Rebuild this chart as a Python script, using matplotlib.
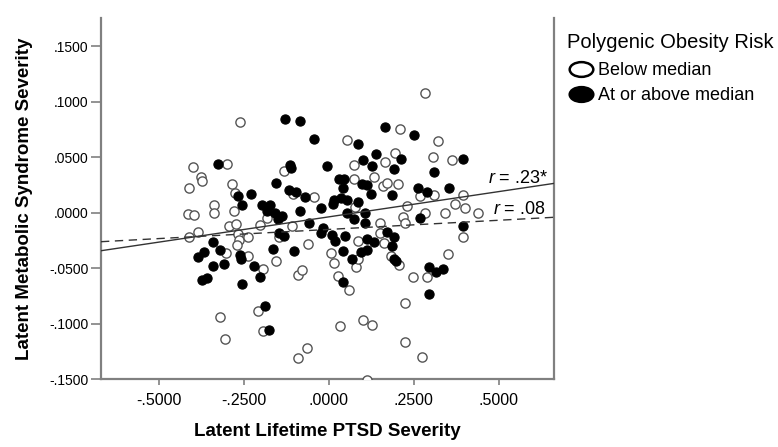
import matplotlib
matplotlib.use('Agg')
import matplotlib.pyplot as plt
from matplotlib.lines import Line2D
from matplotlib.path import Path
from matplotlib.ticker import FuncFormatter
import numpy as np

plt.rcParams['font.family'] = 'Liberation Sans'
plt.rcParams['mathtext.fontset'] = 'custom'
plt.rcParams['mathtext.it'] = 'Liberation Sans:italic'
plt.rcParams['mathtext.rm'] = 'Liberation Sans'

# below median group (open circles)
below_x = [-0.261, -0.300, -0.398, -0.376, -0.372, -0.411, -0.285, -0.276, -0.338, -0.338,
           -0.413, -0.396, -0.279, -0.293, -0.273, -0.384, -0.411, -0.267, -0.264, -0.271,
           -0.303, -0.236, -0.236, -0.320, -0.305, -0.131, 0.054, 0.211, 0.196, 0.167,
           0.074, 0.074, 0.133, 0.161, 0.173, 0.205, -0.104, -0.044, -0.182, 0.077,
           0.152, 0.229, 0.220, 0.224, -0.109, -0.201, -0.145, -0.060, -0.156, 0.008,
           0.016, 0.085, 0.151, 0.163, 0.184, 0.208, 0.080, 0.087, -0.194, -0.089,
           -0.078, 0.028, 0.061, -0.207, -0.194, -0.089, -0.065, 0.033, 0.100, 0.126,
           0.224, 0.224, 0.112, 0.283, 0.322, 0.308, 0.362, 0.269, 0.309, 0.394,
           0.371, 0.401, 0.438, 0.342, 0.283, 0.394, 0.350, 0.249, 0.288, 0.276]
below_y = [0.0814, 0.0439, 0.0409, 0.0319, 0.0288, 0.0223, 0.0256, 0.0175, 0.0069, -0.0003,
           -0.0012, -0.0021, 0.0018, -0.0120, -0.0102, -0.0171, -0.0222, -0.0189, -0.0246, -0.0291,
           -0.0366, -0.0222, -0.0390, -0.0937, -0.1141, 0.0376, 0.0652, 0.0750, 0.0536, 0.0455,
           0.0430, 0.0304, 0.0322, 0.0241, 0.0272, 0.0261, 0.0166, 0.0141, -0.0050, 0.0054,
           -0.0088, 0.0060, -0.0034, -0.0095, -0.0120, -0.0106, -0.0222, -0.0279, -0.0431, -0.0363,
           -0.0450, -0.0250, -0.0178, -0.0273, -0.0388, -0.0471, -0.0486, -0.0420, -0.0510, -0.0561,
           -0.0516, -0.0570, -0.0696, -0.0883, -0.1066, -0.1306, -0.1216, -0.1018, -0.0967, -0.1012,
           -0.0816, -0.1168, -0.1507, 0.1076, 0.0646, 0.0499, 0.0479, 0.0150, 0.0159, 0.0162,
           0.0078, 0.0044, -0.0003, 0.0000, 0.0002, -0.0222, -0.0372, -0.0582, -0.0582, -0.1297]

# at or above median group (filled circles)
above_x = [-0.326, -0.268, -0.256, -0.129, -0.084, -0.044, 0.166, 0.085, 0.140, 0.212,
           0.101, 0.126, 0.191, -0.115, -0.111, -0.006, 0.029, 0.044, 0.099, 0.114,
           0.041, 0.125, 0.186, -0.156, -0.117, -0.096, -0.071, -0.228, -0.195, -0.174,
           -0.181, -0.158, -0.137, -0.149, -0.084, -0.023, 0.016, 0.035, 0.013, 0.053,
           0.087, 0.055, 0.074, 0.107, 0.106, -0.057, -0.018, -0.145, -0.131, -0.024,
           -0.164, -0.103, 0.010, 0.019, 0.047, 0.043, 0.114, 0.133, 0.112, 0.094,
           0.069, 0.171, 0.191, 0.185, 0.191, 0.199, -0.220, -0.202, -0.254, 0.041,
           -0.187, -0.175, -0.339, -0.366, -0.385, -0.320, -0.260, -0.258, -0.339, -0.307,
           -0.374, -0.359, 0.394, 0.310, 0.263, 0.289, 0.355, 0.269, 0.394, 0.251,
           0.296, 0.316, 0.335, 0.296]
above_y = [0.0439, 0.0150, 0.0067, 0.0841, 0.0823, 0.0667, 0.0772, 0.0619, 0.0529, 0.0484,
           0.0472, 0.0421, 0.0391, 0.0434, 0.0400, 0.0418, 0.0308, 0.0304, 0.0261, 0.0250,
           0.0223, 0.0171, 0.0164, 0.0272, 0.0209, 0.0186, 0.0144, 0.0170, 0.0074, 0.0067,
           0.0020, -0.0005, -0.0025, -0.0057, 0.0018, 0.0041, 0.0119, 0.0130, 0.0081, 0.0114,
           0.0095, -0.0003, -0.0057, -0.0003, -0.0093, -0.0090, -0.0133, -0.0186, -0.0205, -0.0186,
           -0.0327, -0.0341, -0.0201, -0.0255, -0.0210, -0.0345, -0.0237, -0.0264, -0.0333, -0.0350,
           -0.0417, -0.0171, -0.0219, -0.0295, -0.0420, -0.0438, -0.0480, -0.0582, -0.0642, -0.0622,
           -0.0838, -0.1057, -0.0261, -0.0357, -0.0402, -0.0336, -0.0381, -0.0417, -0.0480, -0.0458,
           -0.0606, -0.0591, 0.0481, 0.0369, 0.0220, 0.0189, 0.0223, -0.0048, -0.0115, 0.0700,
           -0.0492, -0.0537, -0.0507, -0.0732]

# fit lines (solid: r=.23*, dashed: r=.08)
fit_slope = [0.0455, 0.0165]
fit_intercept = [-0.0037, -0.0150]
fit_label = [r'$r$ = .23*', r'$r$ = .08']
fit_label_pos = [(0.645, 0.0268), (0.638, -0.0012)]

x_ticks = [-0.5, -0.25, 0.0, 0.25, 0.5]
y_ticks = [-0.15, -0.10, -0.05, 0.0, 0.05, 0.10, 0.15]

fig = plt.figure(figsize=(7.78, 4.47), dpi=100)
ax = fig.add_axes([0.1298, 0.1514, 0.5823, 0.8083])

ax.scatter(below_x, below_y, s=44, facecolors='white', edgecolors='#555555', linewidths=1.0, zorder=3)
ax.scatter(above_x, above_y, s=44, facecolors='black', edgecolors='black', linewidths=0.8, zorder=4)

xlim = (-0.67, 0.663)
xx = np.array(xlim)
ax.plot(xx, fit_slope[0] * xx + fit_intercept[0], color='#333333', lw=1.0, zorder=5)
ax.plot(xx, fit_slope[1] * xx + fit_intercept[1], color='#333333', lw=1.0, dashes=(6, 4), zorder=5)
for lab, (tx, ty) in zip(fit_label, fit_label_pos):
    ax.text(tx, ty, lab, ha='right', va='baseline', fontsize=13, zorder=6)

ax.set_xlim(*xlim)
ax.set_ylim(-0.15, 0.1754)
ax.set_xticks(x_ticks)
ax.set_yticks(y_ticks)

def fmt(v, pos):
    s = '%.4f' % v
    if abs(v) < 1e-9:
        return '.0000'
    return s.replace('0.', '.', 1)

ax.xaxis.set_major_formatter(FuncFormatter(fmt))
ax.yaxis.set_major_formatter(FuncFormatter(fmt))

for side in ['left', 'right', 'bottom']:
    ax.spines[side].set_color('#808080')
    ax.spines[side].set_linewidth(1.6)
ax.spines['top'].set_visible(False)
ax.tick_params(axis='x', length=4.5, width=1.2, color='#808080', labelsize=11.5, pad=5)
ax.tick_params(axis='y', length=7, width=1.2, color='#808080', labelsize=10, pad=2)

ax.set_xlabel('Latent Lifetime PTSD Severity', fontsize=13.5, fontweight='bold')
ax.set_ylabel('Latent Metabolic Syndrome Severity', fontsize=13.5, fontweight='bold')
ax.xaxis.set_label_coords(0.499, -0.12)
ax.yaxis.set_label_coords(-0.150, 0.5)

# legend
fig.text(567 / 778, 1 - 42 / 447, 'Polygenic Obesity Risk', fontsize=14.5, ha='left', va='center')
ell = Path(Path.unit_circle().vertices * np.array([1.6, 1.0]), Path.unit_circle().codes)
handles = [Line2D([], [], ls='none', marker=ell, ms=17, mfc='white', mec='black', mew=1.8),
           Line2D([], [], ls='none', marker=ell, ms=17, mfc='black', mec='black', mew=1.8)]
fig.legend(handles, ['Below median', 'At or above median'],
           loc='upper left', bbox_to_anchor=(569 / 778, 1 - 62 / 447), frameon=False,
           fontsize=13, handlelength=1.3, handletextpad=0.3, labelspacing=0.45,
           borderpad=0, borderaxespad=0)

fig.savefig('out.png', dpi=100)
